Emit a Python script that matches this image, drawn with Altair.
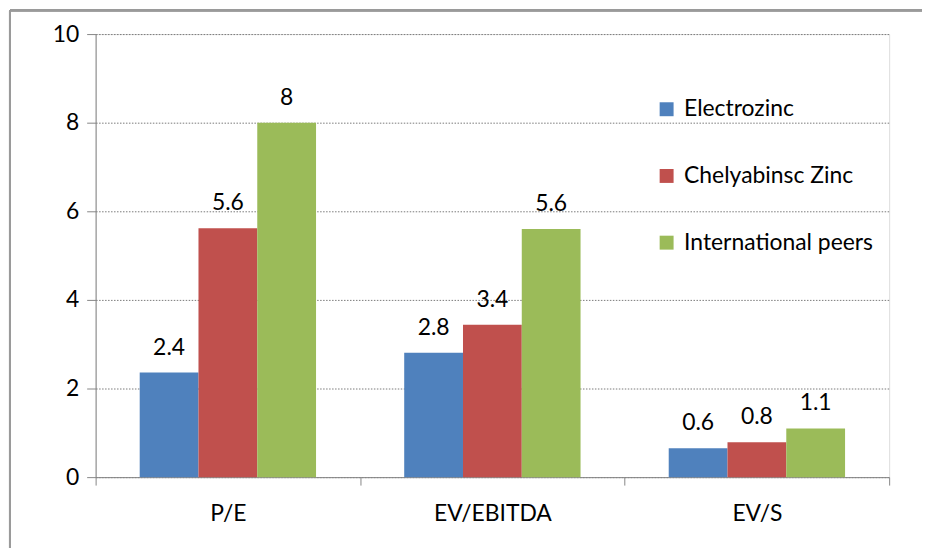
import altair as alt
import pandas as pd

categories = ["P/E", "EV/EBITDA", "EV/S"]
series = ["Electrozinc", "Chelyabinsc Zinc", "International peers"]
electrozinc = [2.36, 2.81, 0.65]
chelyabinsc = [5.62, 3.44, 0.79]
international = [8.0, 5.6, 1.1]
electrozinc_lbl = ["2.4", "2.8", "0.6"]
chelyabinsc_lbl = ["5.6", "3.4", "0.8"]
international_lbl = ["8", "5.6", "1.1"]
colors = ["#4F81BD", "#C0504D", "#9BBB59"]
y_ticks = [0, 2, 4, 6, 8, 10]

rows = []
for s, vals, lbls in [(series[0], electrozinc, electrozinc_lbl),
                      (series[1], chelyabinsc, chelyabinsc_lbl),
                      (series[2], international, international_lbl)]:
    for c, v, l in zip(categories, vals, lbls):
        rows.append({"category": c, "series": s, "value": v, "label": l})
df = pd.DataFrame(rows)

FONT = "Lato"
FS = 23

W, H = 797, 445

x_enc = alt.X("category:N", sort=categories,
              scale=alt.Scale(paddingInner=0, paddingOuter=0),
              axis=alt.Axis(title=None, labelAngle=0, tickBand="extent",
                            labelFont=FONT, labelFontSize=FS, labelColor="#000000",
                            labelPadding=18, tickSize=8, tickColor="#868686",
                            domainColor="#868686", grid=False))
xo_enc = alt.XOffset("series:N", sort=series,
                     scale=alt.Scale(paddingInner=0, paddingOuter=0.75))
y_enc = alt.Y("value:Q",
              scale=alt.Scale(domain=[0, 10], nice=False),
              axis=alt.Axis(title=None, values=y_ticks, labelFont=FONT,
                            labelFontSize=FS, labelColor="#000000",
                            labelPadding=8, tickSize=9, tickColor="#868686",
                            domainColor="#868686", gridColor="#7a7a7a",
                            gridDash=[1.5, 1.5], gridWidth=1))

base = alt.Chart(df)

bars = base.mark_bar(strokeWidth=0).encode(
    x=x_enc, xOffset=xo_enc, y=y_enc,
    color=alt.Color("series:N", sort=series,
                    scale=alt.Scale(domain=series, range=colors),
                    legend=alt.Legend(title=None, orient="none", legendX=562,
                                      legendY=64, symbolType="square",
                                      symbolSize=196, symbolStrokeWidth=0,
                                      labelFont=FONT, labelFontSize=FS,
                                      labelColor="#000000", labelOffset=6,
                                      labelLimit=400,
                                      rowPadding=43, padding=0)))

texts = base.mark_text(font=FONT, fontSize=FS, color="#000000",
                       baseline="alphabetic", dy=-18).encode(
    x=x_enc, xOffset=xo_enc, y=y_enc, text="label:N")

top_border = alt.Chart(df).mark_rule(color="#9a9a9a", strokeWidth=2).encode(
    x=alt.value(-86), x2=alt.value(W + 60), y=alt.value(-24))
left_border = alt.Chart(df).mark_rule(color="#9a9a9a", strokeWidth=2).encode(
    x=alt.value(-86), y=alt.value(-24), y2=alt.value(H + 90))

chart = alt.layer(bars, texts, top_border, left_border).properties(
    width=W, height=H,
    autosize=alt.AutoSizeParams(type="none"),
    padding={"left": 88, "top": 25, "right": 33, "bottom": 70},
).configure_view(fill="#EBF1DE", stroke=None).configure(background="#FFFFFF")

chart.save("out.html", embed_options={"renderer": "svg", "actions": False})
